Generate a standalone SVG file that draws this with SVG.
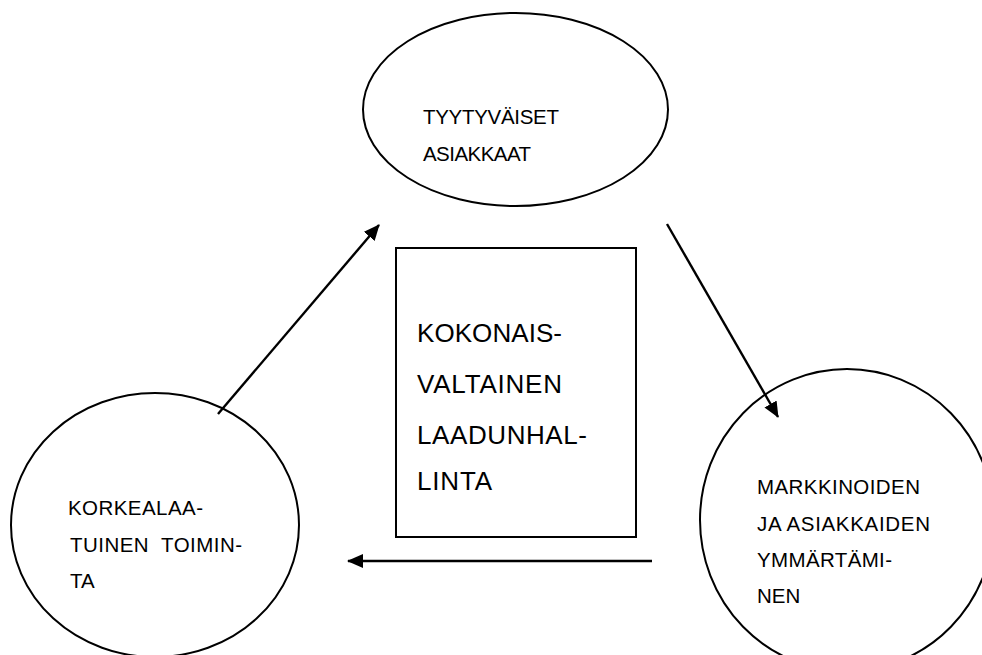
<svg xmlns="http://www.w3.org/2000/svg" width="982" height="655" viewBox="0 0 982 655">
  <style>
    .shape { fill: #ffffff; stroke: #000000; stroke-width: 2; }
    .link { fill: none; stroke: #000000; stroke-width: 2.4; }
    .small { font-family: "Liberation Sans", Arial, sans-serif; font-size: 20.5px; fill: #000000; }
    .big { font-family: "Liberation Sans", Arial, sans-serif; font-size: 26px; fill: #000000; }
  </style>
  <defs>
    <marker id="head" viewBox="0 0 16 14" refX="15" refY="7" markerWidth="16" markerHeight="14" markerUnits="userSpaceOnUse" orient="auto">
      <path d="M0,0 L16,7 L0,14 Z" fill="#000000"/>
    </marker>
  </defs>
  <rect width="982" height="655" fill="#ffffff"/>

  <g id="node-tyytyvaiset">
    <ellipse class="shape" cx="515.5" cy="109.5" rx="152.5" ry="96.5"/>
    <text class="small" x="423" y="124" textLength="136">TYYTYVÄISET</text>
    <text class="small" x="423" y="161" textLength="108">ASIAKKAAT</text>
  </g>

  <g id="node-laadunhallinta">
    <rect class="shape" x="396" y="248" width="240" height="289"/>
    <text class="big" x="417" y="342" textLength="145">KOKONAIS-</text>
    <text class="big" x="417" y="393" textLength="145">VALTAINEN</text>
    <text class="big" x="417" y="444" textLength="170">LAADUNHAL-</text>
    <text class="big" x="417" y="490" textLength="75">LINTA</text>
  </g>

  <g id="node-markkinat">
    <ellipse class="shape" cx="847" cy="520" rx="147" ry="151"/>
    <text class="small" x="757" y="494" textLength="163">MARKKINOIDEN</text>
    <text class="small" x="757" y="531" textLength="173">JA ASIAKKAIDEN</text>
    <text class="small" x="757" y="567" textLength="135">YMMÄRTÄMI-</text>
    <text class="small" x="757" y="603">NEN</text>
  </g>

  <g id="node-toiminta">
    <ellipse class="shape" cx="155" cy="525" rx="144" ry="132"/>
    <text class="small" x="68" y="515" textLength="135">KORKEALAA-</text>
    <text class="small" x="70" y="552" xml:space="preserve" textLength="172">TUINEN  TOIMIN-</text>
    <text class="small" x="70" y="588">TA</text>
  </g>

  <g id="connectors">
    <line class="link" x1="218" y1="414" x2="379" y2="225" marker-end="url(#head)"/>
    <line class="link" x1="667" y1="224" x2="778" y2="417" marker-end="url(#head)"/>
    <line class="link" x1="652" y1="561" x2="348" y2="561" marker-end="url(#head)"/>
  </g>
</svg>
